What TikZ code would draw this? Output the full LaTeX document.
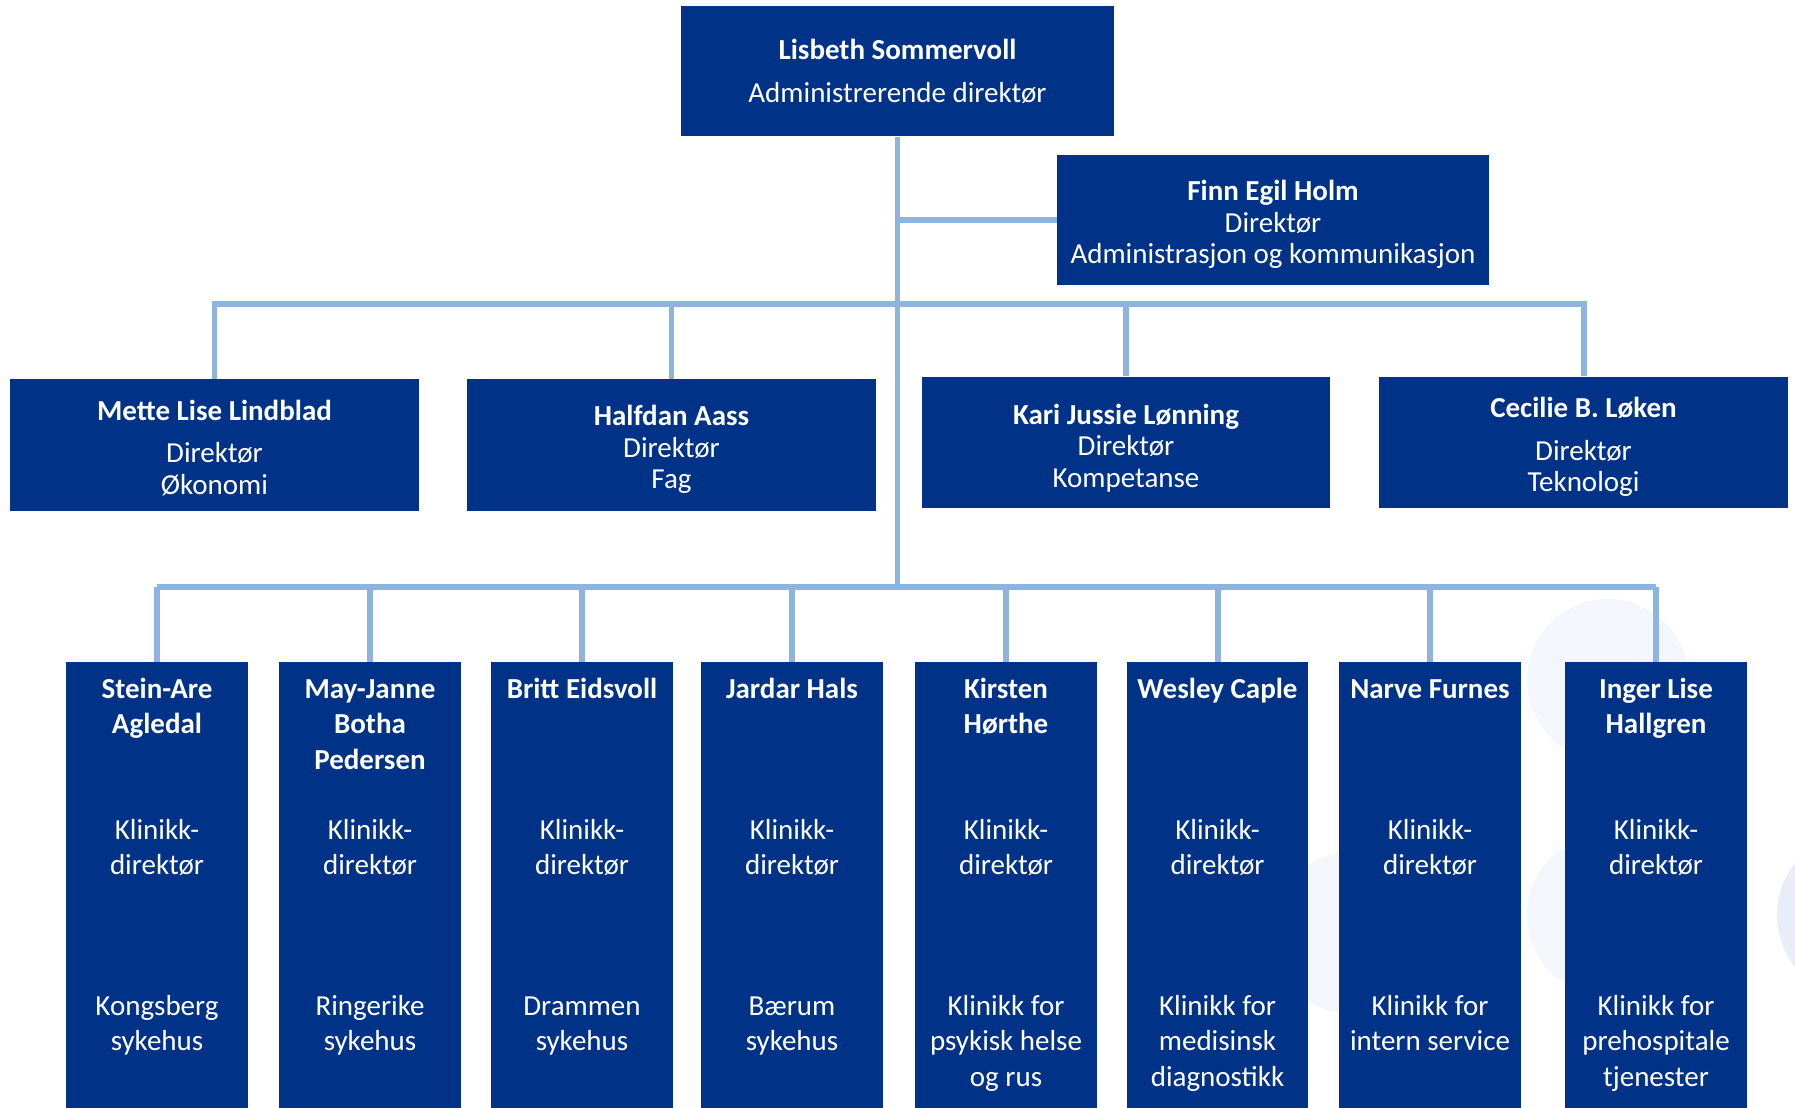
\documentclass[tikz,border=0pt]{standalone}
\usepackage{fontspec}
\setmainfont{Carlito}
\definecolor{boxblue}{RGB}{0,51,135}
\definecolor{linkblue}{RGB}{141,180,222}
\definecolor{mistblue}{RGB}{243,246,251}
\definecolor{hazeblue}{RGB}{233,237,247}

\begin{document}
\begin{tikzpicture}[
        % Define styles for consistency
        x=0.02cm, y=-0.02cm,
        orgbox/.style={fill=boxblue, inner sep=0pt},
        topbox/.style={orgbox, minimum width=8.66cm, minimum height=2.62cm},
        dirbox/.style={orgbox, minimum width=8.18cm, minimum height=2.63cm},
        klinikkbox/.style={orgbox, minimum width=3.64cm, minimum height=8.92cm},
        boxtext/.style={text=white, inner sep=0pt, align=center,
                        font=\fontsize{16.5}{17.9}\selectfont},
        dirtext/.style={boxtext, yshift=-2.6pt},
        klinikktext/.style={text=white, inner sep=0pt, align=center, anchor=base,
                            font=\fontsize{16.5}{20.2}\selectfont},
        klinikkname/.style={klinikktext, font=\fontsize{16.5}{20.2}\selectfont\bfseries},
        connector/.style={linkblue, line width=3.4pt},
        blob/.style={draw=none}
    ]
        \useasboundingbox (0,0) rectangle (1795,1108);

        % --- Background circles ---
        \fill[blob, mistblue] (1608,680) circle [radius=1.62cm];
        \fill[blob, mistblue] (1608,915) circle [radius=1.62cm];
        \fill[blob, mistblue] (1350,933) circle [radius=1.6cm];
        \fill[blob, hazeblue] (1862,915) circle [radius=1.7cm];

        % --- Coordinates ---
        \coordinate (bus1) at (898,304);
        \coordinate (bus2) at (898,587);

        % --- Draw Nodes ---
        % Top management
        \node[topbox] (ceo) at (897.5,71) {};
        \node[boxtext] (ceo-text) at (ceo)
            {\textbf{Lisbeth Sommervoll}\\[6.5pt]Administrerende direktør};
        \node[topbox, minimum width=8.64cm, minimum height=2.6cm] (admin) at (1273,220) {};
        \node[dirtext] (admin-text) at (admin)
            {\textbf{Finn Egil Holm}\\Direktør\\Administrasjon og kommunikasjon};

        % Staff directors
        \node[dirbox] (okonomi) at (214.5,445) {};
        \node[dirtext, yshift=1pt] (okonomi-text) at (okonomi)
            {\textbf{Mette Lise Lindblad}\\[6.5pt]Direktør\\Økonomi};
        \node[dirbox] (fag) at (671.5,445) {};
        \node[dirtext] (fag-text) at (fag)
            {\textbf{Halfdan Aass}\\Direktør\\Fag};
        \node[dirbox] (kompetanse) at (1126,442.5) {};
        \node[dirtext, yshift=-0.6pt] (kompetanse-text) at (kompetanse)
            {\textbf{Kari Jussie Lønning}\\Direktør\\Kompetanse};
        \node[dirbox] (teknologi) at (1583.5,442.5) {};
        \node[dirtext] (teknologi-text) at (teknologi)
            {\textbf{Cecilie B. Løken}\\[6.5pt]Direktør\\Teknologi};

        % Clinics (base = last line)
        \foreach \x/\id/\ny/\name/\py/\place in {
            157/kongsberg/733.5/{Stein-Are\\Agledal}/1050.5/{Kongsberg\\sykehus},
            370/ringerike/769/{May-Janne\\Botha\\Pedersen}/1050.5/{Ringerike\\sykehus},
            582/drammen/698/{Britt Eidsvoll}/1050.5/{Drammen\\sykehus},
            792/baerum/698/{Jardar Hals}/1050.5/{Bærum\\sykehus},
            1006/psykisk/733.5/{Kirsten\\Hørthe}/1086/{Klinikk for\\psykisk helse\\og rus},
            1217.5/diagnostikk/698/{Wesley Caple}/1086/{Klinikk for\\medisinsk\\diagnostikk},
            1430/intern/698/{Narve Furnes}/1050.5/{Klinikk for\\intern service},
            1656/prehospital/733.5/{Inger Lise\\Hallgren}/1086/{Klinikk for\\prehospitale\\tjenester}} {
            \node[klinikkbox] (\id) at (\x,885) {};
            \node[klinikkname] (\id-name) at (\x,\ny) {\name};
            \node[klinikktext] (\id-role) at (\x,874.5) {Klinikk-\\direktør};
            \node[klinikktext] (\id-unit) at (\x,\py) {\place};
            \draw[connector] (\id.north) -- (\id.north |- bus2);
        }

        % --- Draw Edges ---
        % Spine
        \draw[connector] (ceo.south) -- (ceo.south |- bus2);
        \draw[connector] (ceo.south |- admin.west) -- (admin.west);

        % Staff level
        \draw[connector] (okonomi.north) -- (okonomi.north |- bus1)
            -- (teknologi.north |- bus1) -- (teknologi.north);
        \draw[connector] (fag.north) -- (fag.north |- bus1);
        \draw[connector] (kompetanse.north) -- (kompetanse.north |- bus1);

        % Clinic level
        \draw[connector] (kongsberg.north |- bus2) -- (prehospital.north |- bus2);

    \end{tikzpicture}
\end{document}
